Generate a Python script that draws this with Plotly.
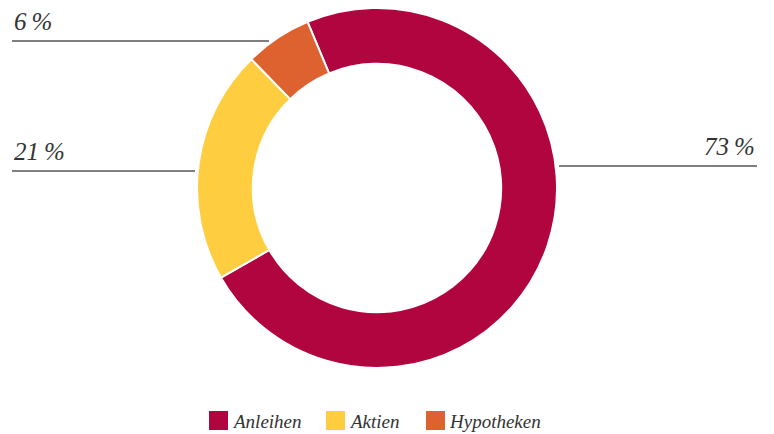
import plotly.graph_objects as go

categories = ["Anleihen", "Aktien", "Hypotheken"]
values = [73, 21, 6]
colors = ["#B0053F", "#FECE40", "#DD6230"]

W, H = 774, 434
FONT = "Liberation Serif"
TXT = "#333333"

def px(x):
    return x / W

def py(y):
    return 1 - y / H

fig = go.Figure()
fig.add_trace(go.Pie(
    labels=categories,
    values=values,
    marker=dict(colors=colors, line=dict(color="white", width=2)),
    hole=0.69,
    sort=False,
    direction="clockwise",
    rotation=-22.7,
    textinfo="none",
    hoverinfo="label+percent",
    showlegend=False,
    domain=dict(x=[px(197), px(557)], y=[py(368), py(8)]),
))

# label lines: (value index, line x0, x1, line y, text x, text anchor)
label_specs = [
    (2, 12, 269, 41, 12, "left"),
    (1, 12, 195, 171, 12, "left"),
    (0, 559, 757, 166, 757, "right"),
]
shapes = []
annotations = []
for idx, x0, x1, ly, tx, anchor in label_specs:
    shapes.append(dict(type="line", xref="paper", yref="paper",
                       x0=px(x0), x1=px(x1), y0=py(ly), y1=py(ly),
                       line=dict(color="#555555", width=1.3)))
    annotations.append(dict(xref="paper", yref="paper", x=px(tx), y=py(ly - 4),
                            xanchor=anchor, yanchor="bottom", showarrow=False,
                            text=f"{values[idx]}\u2009%",
                            font=dict(family=FONT, size=25, color=TXT, style="italic")))

# manual legend
legend_x = [209, 326, 426]
for i, cat in enumerate(categories):
    x = legend_x[i]
    shapes.append(dict(type="rect", xref="paper", yref="paper",
                       x0=px(x), x1=px(x + 19), y0=py(430), y1=py(411),
                       fillcolor=colors[i], line=dict(width=0)))
    annotations.append(dict(xref="paper", yref="paper", x=px(x + 21), y=py(421),
                            xanchor="left", yanchor="middle", showarrow=False,
                            text=cat,
                            font=dict(family=FONT, size=19, color=TXT, style="italic")))

fig.update_layout(
    width=W, height=H,
    margin=dict(l=0, r=0, t=0, b=0),
    paper_bgcolor="white",
    plot_bgcolor="white",
    shapes=shapes,
    annotations=annotations,
)

fig.write_html("out.html", config={"displayModeBar": False},
               post_script="document.body.style.margin='0';document.body.style.overflow='hidden';")
